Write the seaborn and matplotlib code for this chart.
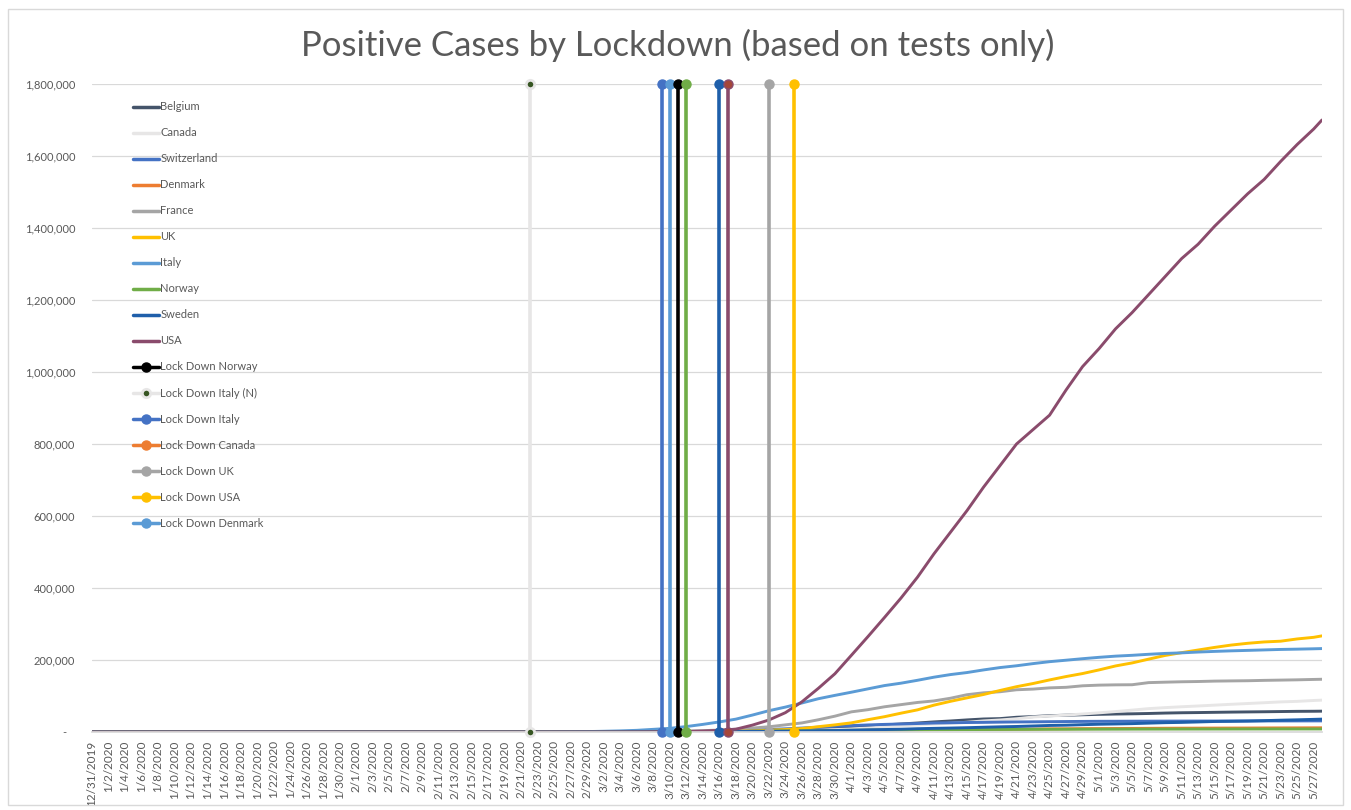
# Positive cases by lockdown - Excel style line chart rebuilt with seaborn
import pandas as pd
import numpy as np
import matplotlib
matplotlib.use('Agg')
import matplotlib.pyplot as plt
from matplotlib.lines import Line2D
from matplotlib.patches import Rectangle
from matplotlib.ticker import FuncFormatter
import seaborn as sns

# Data: 12/31/2019, then every 2 days 2/21 .. 5/27, then 5/28
countries = ['Belgium', 'Canada', 'Switzerland', 'Denmark', 'France',
             'UK', 'Italy', 'Norway', 'Sweden', 'USA']

belgium = [0, 0, 0, 0, 0, 0,
           2, 13, 50, 200, 267, 399, 689, 1058, 1486, 2257, 3401, 4269, 6235, 9134, 11899,
           13964, 16770, 19691, 22194, 24983, 28018, 30589, 33573, 36138, 37183, 40956, 42797, 45325, 46687, 47859,
           49032, 49906, 50509, 51420, 52596, 53449, 53981, 54644, 55280, 55791, 56235, 56810, 57342, 57592,
           57849]
canada = [0, 8, 9, 11, 13, 14,
          27, 33, 45, 60, 77, 108, 193, 341, 569, 846, 1328, 2088, 3409, 5576, 6671,
          8527, 11284, 14018, 17063, 19438, 22059, 24298, 27063, 30808, 33383, 36829, 41650, 44364, 46895, 50026,
          53236, 56714, 60772, 64922, 67702, 70091, 72278, 74613, 76944, 79101, 81324, 83621, 85103, 87519,
          88512]
switzerland = [0, 0, 0, 1, 8, 18,
               27, 58, 214, 337, 491, 858, 1359, 2200, 3028, 4840, 7014, 8795, 10897, 13213, 15922,
               17768, 19606, 21100, 22253, 23574, 24900, 25688, 26336, 26732, 27404, 27944, 28268, 28677, 29061, 29407,
               29705, 29817, 30009, 30126, 30251, 30344, 30414, 30463, 30572, 30618, 30694, 30736, 30776, 30828,
               30845]
denmark = [0, 0, 0, 0, 1, 1,
           3, 8, 23, 35, 262, 617, 801, 898, 1057, 1255, 1420, 1591, 2023, 2395, 2577,
           3107, 3757, 4369, 5071, 5635, 6191, 6511, 6870, 7384, 7515, 7912, 8210, 8773, 8896, 9311,
           9523, 9670, 9938, 10218, 10429, 10591, 10713, 10858, 10968, 11044, 11230, 11360, 11480, 11593,
           11633]
france = [0, 12, 12, 12, 18, 57,
          130, 212, 423, 949, 1412, 2281, 3661, 5423, 7730, 10995, 14459, 19856, 25233, 34000, 44000,
          56000, 62000, 70000, 76000, 82048, 86334, 93790, 103573, 108847, 111821, 117324, 119151, 122577, 124114, 128339,
          130185, 130979, 131287, 137150, 138421, 139519, 140227, 141356, 141919, 142411, 143427, 144163, 144921, 146000,
          146500]
uk = [0, 9, 9, 13, 15, 20,
      36, 51, 116, 206, 321, 459, 798, 1144, 1960, 2716, 5067, 6726, 9640, 14745, 19780,
      25481, 34173, 42477, 52279, 61474, 74605, 85206, 94845, 104145, 115314, 125856, 134638, 144640, 154037, 162350,
      172481, 183500, 191832, 202359, 212629, 220449, 227741, 234998, 241461, 246406, 250138, 252246, 258504, 263000,
      267000]
italy = [0, 20, 155, 322, 655, 1128,
         2036, 3089, 4636, 7375, 10149, 15113, 21157, 27980, 35713, 47021, 59138, 69176, 80589, 92472, 101739,
         110574, 119827, 128948, 135586, 143626, 152271, 159516, 165155, 172434, 178972, 183957, 189973, 195351, 199414, 203591,
         207428, 210717, 213013, 215858, 218268, 219814, 222104, 223885, 225435, 226699, 228006, 229327, 230158, 231139,
         231732]
norway = [0, 0, 0, 0, 1, 6,
          19, 56, 108, 169, 400, 702, 1090, 1256, 1550, 1914, 2385, 2916, 3369, 3845, 4284,
          4665, 5208, 5640, 5865, 6086, 6314, 6525, 6740, 6937, 7092, 7241, 7401, 7499, 7599, 7710,
          7783, 7847, 7955, 8034, 8089, 8132, 8175, 8219, 8257, 8303, 8352, 8383, 8401, 8411,
          8422]
sweden = [0, 1, 1, 1, 1, 7,
          14, 35, 101, 203, 326, 620, 924, 1103, 1279, 1623, 1906, 2286, 2840, 3447, 4028,
          4947, 6078, 6830, 7693, 9141, 10151, 10948, 11927, 13216, 14385, 15322, 16755, 18177, 18926, 20302,
          21520, 22317, 23216, 24623, 25921, 26670, 27909, 29207, 29677, 30377, 31523, 32809, 33843, 35088,
          35727]
usa = [0, 15, 15, 53, 59, 68,
       98, 149, 262, 518, 959, 1663, 2727, 4632, 7786, 19101, 33276, 53740, 83836, 121465, 161831,
       213242, 265000, 318000, 372000, 430000, 495000, 555000, 615000, 680000, 740000, 800000, 840000, 880000, 950000, 1015000,
       1065000, 1120000, 1165000, 1215000, 1265000, 1315000, 1355000, 1405000, 1450000, 1495000, 1535000, 1585000, 1632000, 1675000,
       1700000]

# Lockdown markers: vertical lines from 0 to the top of the axis
lockdown_dates = ['2020-02-22', '2020-03-09', '2020-03-10', '2020-03-11', '2020-03-12',
                  '2020-03-16', '2020-03-17', '2020-03-22', '2020-03-25']
lockdown_top = 1800000

legend_lockdowns = ['Lock Down Norway', 'Lock Down Italy (N)', 'Lock Down Italy',
                    'Lock Down Canada', 'Lock Down UK', 'Lock Down USA', 'Lock Down Denmark']

# Styles
palette = {'Belgium': '#44546A', 'Canada': '#E7E6E6', 'Switzerland': '#4472C4',
           'Denmark': '#ED7D31', 'France': '#A5A5A5', 'UK': '#FFC000',
           'Italy': '#5B9BD5', 'Norway': '#70AD47', 'Sweden': '#1F5FAA', 'USA': '#8A4B6C'}
lock_line_colors = ['#E7E6E6', '#4472C4', '#5B9BD5', '#000000', '#70AD47',
                    '#1F5FAA', '#8A4B6C', '#A5A5A5', '#FFC000']
lock_face_colors = ['#375623', '#4472C4', '#5B9BD5', '#000000', '#70AD47',
                    '#1F5FAA', '#A5473A', '#A5A5A5', '#FFC000']
legend_lock_colors = ['#000000', '#E7E6E6', '#4472C4', '#ED7D31', '#A5A5A5', '#FFC000', '#5B9BD5']
text_color = '#595959'
grid_color = '#D9D9D9'

sns.set_theme(style='white')
plt.rcParams['font.family'] = ['Lato', 'DejaVu Sans']

# Build long table for seaborn
start = pd.Timestamp('2019-12-31')
obs_dates = ([start] + list(pd.date_range('2020-02-21', '2020-05-27', freq='2D'))
             + [pd.Timestamp('2020-05-28')])
obs_days = [(d - start).days for d in obs_dates]
series = [belgium, canada, switzerland, denmark, france, uk, italy, norway, sweden, usa]
df = pd.concat([pd.DataFrame({'day': obs_days, 'cases': vals, 'country': name})
                for name, vals in zip(countries, series)], ignore_index=True)

fig = plt.figure(figsize=(13.51, 8.10), dpi=100)
ax = fig.add_axes([0.0681, 0.0963, 0.9104, 0.8])

sns.lineplot(data=df, x='day', y='cases', hue='country', hue_order=countries,
             palette=palette, linewidth=2.1, estimator=None, errorbar=None,
             legend=False, ax=ax)

for i, d in enumerate(lockdown_dates):
    day = (pd.Timestamp(d) - start).days
    small = i == 0
    ax.plot([day, day], [0, lockdown_top], color=lock_line_colors[i], lw=2.6,
            marker='o', ms=6.5 if not small else 6, mfc=lock_face_colors[i],
            mec=lock_line_colors[i], mew=2 if small else 1,
            clip_on=False, zorder=5)

# Axes formatting
axis_dates = pd.date_range('2019-12-31', '2020-05-27', freq='2D')
ax.set_xticks([(d - start).days for d in axis_dates])
ax.set_xticklabels([f'{d.month}/{d.day}/{d.year}' for d in axis_dates], rotation=90)
ax.set_xlim(0, 149)
ax.set_ylim(0, 1800000)
ax.set_yticks(range(0, 1800001, 200000))
ax.yaxis.set_major_formatter(FuncFormatter(lambda v, p: '-   ' if v == 0 else f'{v:,.0f}'))
ax.tick_params(axis='both', length=0, labelsize=8, labelcolor=text_color)
ax.tick_params(axis='x', labelsize=8.5, pad=6)
ax.tick_params(axis='y', pad=12)
ax.set_xlabel('')
ax.set_ylabel('')
ax.yaxis.grid(True, color=grid_color, lw=0.9)
ax.set_axisbelow(True)
for s in ['top', 'right', 'left']:
    ax.spines[s].set_visible(False)
ax.spines['bottom'].set_color(grid_color)

# Legend
handles = [Line2D([], [], color=palette[c], lw=2.5) for c in countries]
for i, name in enumerate(legend_lockdowns):
    if name == 'Lock Down Italy (N)':
        handles.append(Line2D([], [], color=legend_lock_colors[i], lw=2.5, marker='o',
                              ms=6, mfc='#375623', mec=legend_lock_colors[i], mew=2))
    else:
        handles.append(Line2D([], [], color=legend_lock_colors[i], lw=2.5, marker='o',
                              ms=6.5, mfc=legend_lock_colors[i], mec=legend_lock_colors[i]))
ax.legend(handles, countries + legend_lockdowns, loc='upper left',
          bbox_to_anchor=(0.033, 0.973), frameon=False, fontsize=8,
          labelcolor=text_color, handlelength=2.4, handletextpad=0.1,
          labelspacing=1.35, borderpad=0, borderaxespad=0)

fig.text(0.502, 0.944, 'Positive Cases by Lockdown (based on tests only)',
         ha='center', va='center', fontsize=25, color=text_color)

fig.patches.append(Rectangle((8 / 1351, 1 - 805 / 810), 1335 / 1351, 796 / 810,
                             transform=fig.transFigure, fill=False,
                             ec=grid_color, lw=1))

fig.savefig('out.png', dpi=100)
